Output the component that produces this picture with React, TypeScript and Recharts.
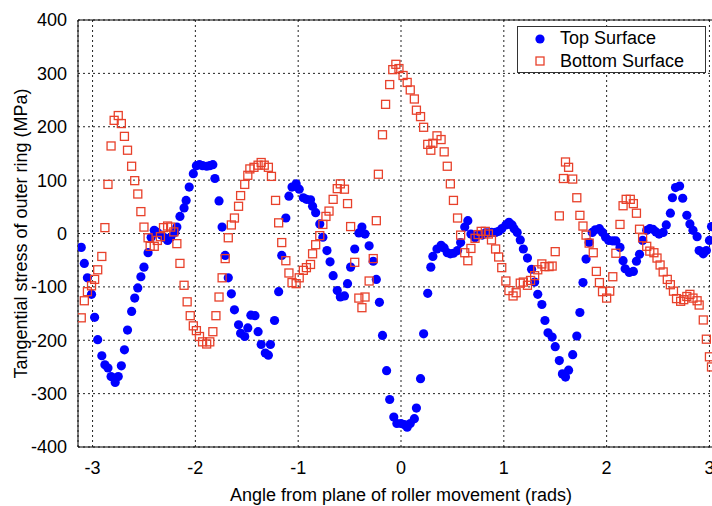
import React from "react";
import {
  ScatterChart, Scatter, XAxis, YAxis, CartesianGrid, ReferenceLine,
} from "recharts";

// angle (rads) and tangential stress (MPa)
const topAngle = [
  -3.11, -3.08, -3.05, -3.01, -2.98, -2.95, -2.91, -2.88, -2.85, -2.82, -2.78, -2.75, -2.72, -2.69,
  -2.66, -2.62, -2.59, -2.56, -2.53, -2.50, -2.46, -2.43, -2.40, -2.37, -2.33, -2.30, -2.27, -2.24,
  -2.20, -2.18, -2.15, -2.11, -2.09, -2.06, -2.02, -1.99, -1.96, -1.93, -1.89, -1.86, -1.83, -1.81,
  -1.77, -1.74, -1.71, -1.68, -1.65, -1.62, -1.58, -1.56, -1.52, -1.49, -1.46, -1.42, -1.39, -1.36,
  -1.32, -1.29, -1.27, -1.23, -1.19, -1.16, -1.12, -1.09, -1.06, -1.02, -0.99, -0.95, -0.92, -0.88,
  -0.86, -0.83, -0.79, -0.76, -0.72, -0.69, -0.66, -0.62, -0.59, -0.55, -0.52, -0.49, -0.45, -0.41,
  -0.38, -0.35, -0.31, -0.27, -0.24, -0.21, -0.18, -0.14, -0.11, -0.07, -0.04, 0.0, 0.03, 0.06,
  0.09, 0.13, 0.15, 0.19, 0.22, 0.26, 0.29, 0.31, 0.35, 0.39, 0.42, 0.45, 0.48, 0.51, 0.55, 0.58,
  0.62, 0.65, 0.68, 0.72, 0.75, 0.79, 0.82, 0.85, 0.88, 0.92, 0.95, 0.98, 1.02, 1.05, 1.08, 1.10,
  1.13, 1.16, 1.19, 1.23, 1.27, 1.30, 1.33, 1.37, 1.40, 1.43, 1.47, 1.50, 1.54, 1.57, 1.60, 1.63,
  1.67, 1.71, 1.74, 1.77, 1.80, 1.83, 1.86, 1.89, 1.93, 1.96, 1.99, 2.02, 2.06, 2.09, 2.13, 2.16,
  2.18, 2.22, 2.26, 2.29, 2.32, 2.35, 2.39, 2.42, 2.45, 2.48, 2.51, 2.55, 2.58, 2.62, 2.64, 2.67,
  2.71, 2.74, 2.78, 2.81, 2.84, 2.88, 2.90, 2.94, 2.97, 3.00, 3.02,
];
const topStress = [
  -26, -56, -83, -114, -157, -199, -229, -246, -252, -268, -279, -268, -248, -218,
  -181, -146, -121, -102, -81, -63, -36, -7, 6, 2, -3, -8, -13, -7,
  2, 12, 32, 48, 62, 87, 112, 127, 129, 127, 126, 127, 129, 103,
  61, 12, -41, -83, -113, -143, -171, -187, -193, -177, -153, -154, -184, -208,
  -224, -228, -208, -163, -109, -41, 29, 70, 87, 93, 83, 67, 64, 63,
  51, 39, 18, -7, -32, -53, -79, -107, -119, -117, -94, -63, -29, 1,
  12, -1, -23, -52, -86, -129, -191, -257, -311, -344, -356, -356, -358, -363,
  -356, -347, -327, -272, -188, -112, -63, -43, -29, -22, -27, -36, -38, -37, -32, -17,
  12, 24, -1, -8, -3, -3, 1, 1, 2, 2, 4, 9, 16, 21, 16, 9,
  2, -12, -29, -46, -67, -91, -114, -133, -163, -186, -194, -212, -238, -263, -269, -256,
  -227, -192, -148, -92, -48, -17, 2, 7, 9, 2, -7, -13, -14, -14, -26, -51,
  -66, -73, -71, -52, -39, -13, 6, 9, 8, 3, -1, 2, 16, 38, 67, 86,
  89, 66, 34, 18, 6, -6, -32, -38, -32, -13, 13,
];

const bottomAngle = [
  -3.11, -3.08, -3.05, -3.01, -2.98, -2.95, -2.91, -2.88, -2.85, -2.82, -2.79, -2.75, -2.72, -2.69,
  -2.66, -2.62, -2.59, -2.56, -2.53, -2.50, -2.46, -2.44, -2.40, -2.37, -2.34, -2.31, -2.27, -2.24,
  -2.21, -2.18, -2.15, -2.11, -2.08, -2.05, -2.02, -1.99, -1.96, -1.93, -1.89, -1.86, -1.83, -1.80,
  -1.77, -1.74, -1.71, -1.68, -1.65, -1.62, -1.58, -1.56, -1.52, -1.49, -1.47, -1.43, -1.39, -1.36,
  -1.33, -1.29, -1.26, -1.22, -1.19, -1.16, -1.12, -1.09, -1.06, -1.02, -0.99, -0.95, -0.92, -0.88,
  -0.86, -0.83, -0.79, -0.76, -0.73, -0.70, -0.66, -0.62, -0.59, -0.55, -0.52, -0.49, -0.45, -0.41,
  -0.38, -0.35, -0.31, -0.27, -0.24, -0.22, -0.18, -0.15, -0.11, -0.08, -0.05, -0.02, 0.02, 0.06,
  0.09, 0.13, 0.15, 0.19, 0.22, 0.26, 0.29, 0.31, 0.35, 0.39, 0.42, 0.45, 0.48, 0.51, 0.55, 0.58,
  0.62, 0.65, 0.68, 0.72, 0.75, 0.78, 0.82, 0.85, 0.88, 0.92, 0.95, 0.98, 1.02, 1.05, 1.09, 1.12,
  1.16, 1.19, 1.23, 1.26, 1.30, 1.33, 1.37, 1.40, 1.44, 1.47, 1.50, 1.54, 1.58, 1.60, 1.63, 1.67,
  1.71, 1.74, 1.77, 1.80, 1.83, 1.87, 1.90, 1.93, 1.96, 2.00, 2.03, 2.06, 2.09, 2.13, 2.16, 2.19,
  2.23, 2.26, 2.29, 2.32, 2.35, 2.39, 2.42, 2.46, 2.49, 2.52, 2.55, 2.59, 2.62, 2.65, 2.68, 2.72,
  2.75, 2.78, 2.81, 2.84, 2.88, 2.90, 2.94, 2.97, 3.00, 3.02,
];
const bottomStress = [
  -158, -126, -109, -98, -86, -68, -43, 11, 92, 164, 212, 221, 206, 182,
  156, 126, 99, 74, 41, 12, -8, -24, -24, -13, -6, 11, 14, 12,
  3, -19, -56, -97, -128, -154, -173, -182, -193, -203, -207, -203, -184, -154,
  -119, -83, -47, -8, 16, 29, 51, 71, 92, 109, 121, 124, 128, 133,
  128, 124, 107, 62, 20, -17, -51, -74, -92, -94, -83, -69, -64, -58,
  -38, -21, -4, 17, 32, 42, 64, 84, 93, 83, 56, 13, -54, -121,
  -139, -119, -89, -47, 24, 111, 185, 242, 279, 307, 317, 309, 296, 283,
  269, 252, 231, 219, 199, 167, 156, 169, 183, 176, 153, 126, 93, 62, 29, -3,
  -36, -51, -28, -9, -2, 4, 4, -1, -12, -29, -44, -64, -89, -107, -117, -111,
  -93, -91, -97, -88, -79, -68, -57, -62, -62, -61, -34, 33, 103, 134, 124, 102,
  67, 34, 14, -3, -18, -36, -71, -92, -109, -121, -108, -81, -37, 17, 52, 64,
  64, 56, 38, 8, -8, -24, -33, -36, -46, -59, -72, -86, -96, -108, -122, -127,
  -124, -118, -114, -121, -126, -134, -162, -198, -231, -250,
];

const xTicks = [-3, -2, -1, 0, 1, 2, 3];
const yTicks = [-400, -300, -200, -100, 0, 100, 200, 300, 400];

const topData = topAngle.map((a, i) => ({ x: a, y: topStress[i] }));
const bottomData = bottomAngle.map((a, i) => ({ x: a, y: bottomStress[i] }));

const FONT = "'Liberation Sans', Arial, sans-serif";
const BLUE = "#0000ff";
const RED = "#e8412b";

const Dot = (props: any) => (
  <circle cx={props.cx} cy={props.cy} r={4.6} fill={BLUE} />
);

const Square = (props: any) => (
  <rect x={props.cx - 4} y={props.cy - 4} width={8} height={8} fill="none" stroke={RED} strokeWidth={1.3} />
);

// legend drawn over the plot, like matlab's boxed legend
function LegendBox() {
  return (
    <div style={{
      position: "absolute", left: 517, top: 26, width: 189, height: 47,
      border: "1px solid #333", background: "#fff", boxSizing: "border-box",
      fontFamily: FONT, fontSize: 18, color: "#000",
    }}>
      <div style={{ display: "flex", alignItems: "center", height: 23 }}>
        <svg width={42} height={14}>
          <circle cx={22} cy={7} r={4.6} fill={BLUE} />
        </svg>
        <span>Top Surface</span>
      </div>
      <div style={{ display: "flex", alignItems: "center", height: 22 }}>
        <svg width={42} height={14}>
          <rect x={18} y={3} width={8} height={8} fill="none" stroke={RED} strokeWidth={1.3} />
        </svg>
        <span>Bottom Surface</span>
      </div>
    </div>
  );
}

export default function App() {
  return (
    <div style={{ position: "absolute", left: 0, top: 0, width: 712, height: 506, overflow: "hidden", background: "#fff" }}>
      <ScatterChart width={740} height={506} margin={{ top: 20, right: 16, left: 0, bottom: 0 }}>
        <CartesianGrid stroke="#222" strokeDasharray="2 3" />
        <XAxis
          type="number" dataKey="x" domain={[-Math.PI, Math.PI]} ticks={xTicks}
          allowDataOverflow height={59} tickLine={false} tickMargin={8}
          axisLine={{ stroke: "#000" }}
          tick={{ fill: "#000", fontSize: 18, fontFamily: FONT }}
          label={{ value: "Angle from plane of roller movement (rads)", position: "insideBottom", offset: 5, fill: "#000", fontSize: 18, fontFamily: FONT }}
        />
        <YAxis
          type="number" dataKey="y" domain={[-400, 400]} ticks={yTicks}
          width={78} tickLine={false} tickMargin={5}
          axisLine={{ stroke: "#000" }}
          tick={{ fill: "#000", fontSize: 18, fontFamily: FONT }}
          label={{ value: "Tangential stress of outer ring (MPa)", angle: -90, position: "insideLeft", offset: 21, fill: "#000", fontSize: 18, fontFamily: FONT, style: { textAnchor: "middle" } }}
        />
        <ReferenceLine y={400} stroke="#000" />
        <Scatter name="Top Surface" data={topData} shape={<Dot />} isAnimationActive={false} />
        <Scatter name="Bottom Surface" data={bottomData} shape={<Square />} isAnimationActive={false} />
      </ScatterChart>
      <LegendBox />
    </div>
  );
}
